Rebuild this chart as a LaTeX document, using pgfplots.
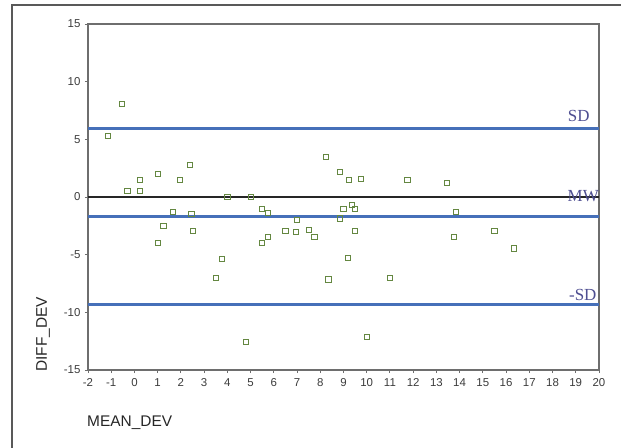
\documentclass[border=0pt]{standalone}
\usepackage{fontspec}
\setmainfont{Liberation Sans}
\newfontfamily\serifont{Liberation Serif}
\usepackage{pgfplots}
\pgfplotsset{compat=1.18}
\definecolor{bline}{RGB}{70,112,185}
\definecolor{mk}{RGB}{100,135,65}
\definecolor{lbl}{RGB}{78,78,145}
\definecolor{ax}{RGB}{110,110,110}
\definecolor{tl}{RGB}{60,60,60}
\begin{document}
\begin{tikzpicture}
\begin{axis}[
  scale only axis,
  width=511bp, height=346bp,
  xmin=-2, xmax=20, ymin=-15, ymax=15,
  xtick={-2,-1,...,20}, ytick={-15,-10,...,15},
  tick align=outside, tick pos=left,
  major tick length=3bp,
  axis line style={ax, line width=1.1bp},
  every tick/.style={ax, line width=0.9bp},
  tick label style={font=\fontsize{11.5}{13}\selectfont, text=tl},
  /pgf/number format/assume math mode=true,
  xticklabel style={yshift=-2bp},
  yticklabel style={xshift=-1bp},
  clip=false,
]
\addplot[black!85, line width=1.3bp] coordinates {(-2,0) (20,0)};
\addplot[bline, line width=3bp] coordinates {(-2,5.9) (20,5.9)};
\addplot[bline, line width=3bp] coordinates {(-2,-1.7) (20,-1.7)};
\addplot[bline, line width=3bp] coordinates {(-2,-9.3) (20,-9.3)};
\addplot[only marks, mark=square, mark size=2.6bp, mk, mark options={line width=0.8bp}] coordinates {
(-1.15,5.3) (-0.55,8.1) (-0.3,0.5) (0.25,0.5) (0.25,1.5) (1.0,2.0) (1.95,1.5) (2.4,2.8)
(1.65,-1.3) (2.45,-1.45) (1.25,-2.5) (2.5,-2.95) (1.0,-4.0) (3.5,-7.0) (3.75,-5.4)
(4.0,0.0) (5.0,0.0) (4.8,-12.55) (5.5,-1.0) (5.75,-1.4) (5.5,-4.0) (5.75,-3.45)
(6.5,-2.95) (6.95,-3.05) (7.0,-2.0) (7.5,-2.85) (7.75,-3.45) (8.25,3.5) (8.85,2.2)
(8.35,-7.15) (9.25,1.5) (9.75,1.6) (9.0,-1.0) (9.35,-0.65) (9.5,-1.0) (8.85,-1.85)
(9.5,-2.95) (9.2,-5.25) (10.0,-12.1) (11.0,-7.0) (11.75,1.5) (13.45,1.2) (13.85,-1.3)
(13.75,-3.45) (15.5,-2.95) (16.35,-4.45)
};
\node[anchor=east, text=lbl, font=\serifont\fontsize{17}{18}\selectfont, inner sep=0pt] at (axis cs:19.6,7.0) {SD};
\node[anchor=east, text=lbl, font=\serifont\fontsize{17}{18}\selectfont, inner sep=0pt] at (axis cs:20,0.05) {MW};
\node[anchor=east, text=lbl, font=\serifont\fontsize{17}{18}\selectfont, inner sep=0pt] at (axis cs:19.9,-8.5) {-SD};
\node[anchor=west, font=\fontsize{15.5}{17}\selectfont, text=black!85, inner sep=0pt] at (axis description cs:-0.002,-0.153) {MEAN\_DEV};
\node[anchor=west, rotate=90, font=\fontsize{15.5}{17}\selectfont, text=black!85, inner sep=0pt] at (axis description cs:-0.088,-0.005) {DIFF\_DEV};
\coordinate (bl) at (axis description cs:-0.1722,-0.2254);
\coordinate (tr) at (axis description cs:1.0431,1.0694);
\draw[black!65, line width=1.3bp] (axis description cs:-0.1487,-0.2254) -- (axis description cs:-0.1487,1.0549) -- (axis description cs:1.0431,1.0549);
\end{axis}
\pgfresetboundingbox
\path[use as bounding box] (bl) rectangle (tr);
\end{tikzpicture}
\end{document}
